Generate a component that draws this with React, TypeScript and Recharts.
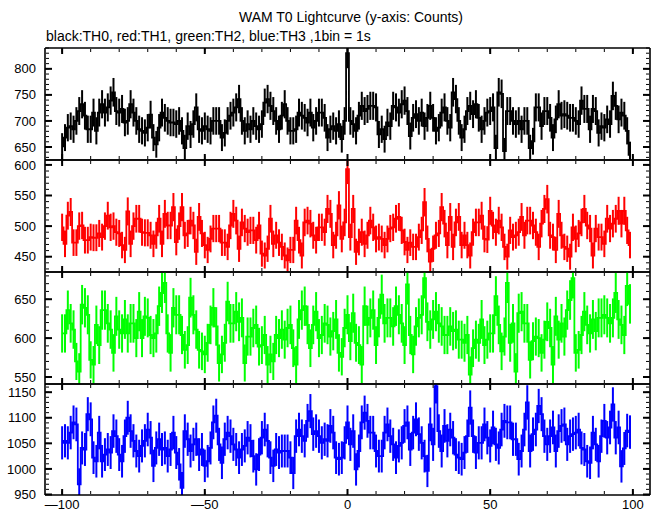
import { LineChart, Line, XAxis, YAxis, ErrorBar } from "recharts";

// 1 s bins, centred on -100 .. 99
const seconds = Array.from({ length: 200 }, (_, i) => i - 100);
const xMajor = [-100, -50, 0, 50, 100];
const xMinor = Array.from({ length: 21 }, (_, i) => -100 + i * 10);

const th0 = [
  651, 668, 687, 690, 684, 700, 719, 732, 710, 684,
  684, 716, 681, 716, 732, 716, 726, 739, 755, 719,
  716, 723, 697, 700, 732, 716, 700, 684, 681, 677,
  687, 712, 668, 655, 687, 716, 706, 700, 697, 697,
  694, 700, 681, 648, 690, 674, 694, 726, 684, 681,
  690, 684, 681, 700, 700, 700, 668, 677, 700, 710,
  716, 726, 742, 700, 681, 694, 684, 700, 690, 684,
  694, 735, 742, 729, 719, 700, 684, 710, 732, 700,
  681, 681, 684, 716, 710, 706, 697, 716, 687, 700,
  716, 716, 706, 668, 684, 690, 681, 694, 665, 700,
  830, 700, 694, 681, 710, 729, 719, 723, 729, 729,
  726, 674, 684, 665, 697, 690, 729, 726, 716, 732,
  739, 719, 671, 706, 713, 700, 716, 690, 706, 729,
  706, 681, 687, 716, 726, 700, 687, 755, 742, 700,
  668, 684, 719, 729, 713, 732, 706, 684, 700, 716,
  719, 726, 648, 755, 752, 642, 719, 719, 700, 694,
  700, 684, 700, 700, 648, 661, 726, 726, 690, 719,
  719, 706, 668, 703, 732, 710, 713, 710, 706, 706,
  700, 694, 739, 723, 723, 684, 723, 719, 677, 690,
  687, 703, 694, 748, 729, 703, 716, 710, 681, 635,
];

const th1 = [
  498, 471, 517, 523, 473, 473, 500, 501, 477, 477,
  482, 481, 481, 488, 482, 500, 517, 498, 500, 490,
  488, 469, 461, 524, 471, 500, 512, 512, 490, 489,
  489, 485, 471, 485, 512, 471, 520, 501, 501, 531,
  474, 500, 531, 485, 488, 509, 501, 458, 515, 488,
  469, 461, 479, 496, 496, 496, 473, 473, 466, 501,
  520, 509, 463, 506, 496, 490, 493, 493, 477, 501,
  455, 452, 463, 512, 471, 485, 473, 466, 452, 444,
  461, 461, 509, 477, 452, 506, 509, 504, 485, 477,
  498, 498, 490, 528, 520, 469, 485, 534, 479, 506,
  593, 482, 528, 458, 474, 490, 471, 485, 509, 498,
  479, 482, 479, 469, 479, 496, 498, 512, 515, 493,
  474, 461, 473, 466, 466, 482, 493, 539, 479, 442,
  463, 485, 488, 531, 504, 469, 515, 466, 506, 515,
  469, 485, 469, 452, 490, 506, 506, 517, 479, 478,
  525, 501, 490, 509, 498, 466, 450, 493, 482, 485,
  490, 515, 485, 509, 509, 501, 490, 466, 504, 528,
  544, 485, 482, 461, 520, 485, 466, 463, 450, 498,
  479, 488, 506, 528, 501, 496, 452, 496, 482, 482,
  471, 512, 496, 504, 512, 525, 504, 525, 493, 469,
];

const th2 = [
  606, 606, 636, 619, 611, 570, 557, 643, 639, 630,
  572, 566, 617, 591, 636, 636, 619, 611, 581, 628,
  611, 606, 624, 606, 619, 619, 600, 634, 600, 628,
  626, 604, 600, 606, 641, 658, 671, 606, 581, 639,
  630, 630, 604, 585, 591, 652, 630, 611, 585, 583,
  579, 594, 617, 639, 615, 568, 579, 594, 647, 619,
  619, 634, 621, 626, 568, 602, 602, 613, 617, 589,
  591, 604, 566, 579, 570, 604, 600, 611, 598, 613,
  617, 587, 566, 624, 636, 641, 617, 587, 617, 634,
  600, 604, 619, 617, 602, 609, 624, 581, 576, 613,
  630, 596, 632, 594, 591, 566, 641, 617, 626, 636,
  591, 626, 656, 619, 626, 626, 615, 641, 630, 619,
  591, 669, 604, 579, 615, 626, 630, 677, 621, 611,
  624, 634, 619, 615, 604, 604, 615, 609, 611, 598,
  598, 594, 604, 553, 587, 598, 594, 624, 591, 598,
  606, 606, 654, 617, 583, 602, 671, 594, 619, 557,
  632, 634, 619, 619, 572, 596, 602, 600, 581, 598,
  621, 613, 566, 628, 598, 619, 602, 636, 649, 677,
  581, 585, 604, 634, 617, 606, 624, 609, 626, 626,
  630, 626, 619, 626, 658, 624, 617, 604, 667, 644,
];

const th3 = [
  1051, 1055, 1051, 1071, 1091, 1087, 970, 1041, 1038, 1107,
  1097, 1022, 1015, 1071, 1015, 1028, 1038, 1032, 1074, 1064,
  1028, 1015, 1064, 1100, 1074, 1055, 1035, 1025, 1045, 1055,
  1077, 1061, 1006, 1041, 1058, 1038, 1041, 1025, 1038, 1071,
  1032, 1009, 963, 1074, 1058, 1035, 1048, 1058, 1028, 1038,
  1006, 1015, 1041, 1091, 1104, 1048, 1012, 1058, 1071, 1064,
  1048, 1038, 1022, 1038, 1045, 1061, 1055, 1025, 999, 1028,
  1061, 1077, 1055, 1022, 1006, 1038, 1032, 1035, 1035, 1035,
  1022, 992, 1064, 1077, 1064, 1055, 1094, 1113, 1068, 1074,
  1064, 1051, 1058, 1055, 1084, 1071, 1022, 1019, 1022, 1051,
  1091, 1048, 1074, 999, 1035, 1091, 1110, 1094, 1071, 1071,
  1035, 1025, 1025, 1071, 1087, 1064, 1048, 1022, 1045, 1051,
  1084, 1091, 1038, 1071, 1097, 1068, 1051, 1025, 996, 1087,
  1048, 1162, 1074, 1035, 1084, 1055, 1077, 1061, 1028, 1022,
  1019, 1032, 1064, 1120, 1064, 1032, 1051, 1051, 1087, 1061,
  1045, 1081, 1048, 1041, 1077, 1094, 1091, 1091, 1058, 1058,
  1019, 1035, 1077, 1130, 1035, 1068, 1077, 1123, 1107, 1064,
  1048, 1064, 1081, 1035, 1074, 1084, 1087, 1048, 1064, 1068,
  1071, 1077, 1041, 1038, 1015, 1012, 1071, 1048, 1015, 1064,
  1094, 1061, 1081, 1126, 1061, 1081, 1005, 1040, 1075, 1072,
];

const th0Ticks = [650, 700, 750, 800];
const th1Ticks = [450, 500, 550, 600];
const th2Ticks = [550, 600, 650];
const th3Ticks = [950, 1000, 1050, 1100, 1150];

const FONT = '"Liberation Sans", Arial, Helvetica, sans-serif';
const PAD = 4;

const fmtX = (v: number) => (v < 0 ? "\u2014" + Math.abs(v) : String(v));
const NoLabel = () => <g />;

type PanelProps = {
  top: number;
  height: number;
  values: number[];
  color: string;
  domain: [number, number];
  labels: number[];
  showX?: boolean;
};

const Panel = ({ top, height, values, color, domain, labels, showX }: PanelProps) => {
  // Poisson errors, cut at the panel edges
  const data = seconds.map((t, i) => {
    const v = values[i];
    const e = Math.sqrt(v);
    return { t, c: v, err: [Math.min(e, v - domain[0]), Math.min(e, domain[1] - v)] };
  });
  const yMinor: number[] = [];
  for (let v = Math.ceil(domain[0] / 10) * 10; v <= domain[1]; v += 10) yMinor.push(v);

  const xc = {
    type: "number" as const,
    dataKey: "t",
    domain: [-106, 106],
    allowDataOverflow: true,
    interval: 0 as const,
    stroke: "#000",
    tick: NoLabel,
    mirror: true,
    height: 1,
  };
  const yc = {
    type: "number" as const,
    domain,
    allowDataOverflow: true,
    interval: 0 as const,
    stroke: "#000",
    tick: NoLabel,
    mirror: true,
    width: 1,
  };
  const frame = { stroke: "#000", strokeWidth: 1.6 };
  const major = { stroke: "#000", strokeWidth: 2 };
  const minor = { stroke: "#000", strokeWidth: 1 };
  const label = { fill: "#000", fontSize: 13, fontFamily: FONT };

  return (
    <div style={{ position: "absolute", left: 0, top: top - PAD }}>
      <LineChart
        width={662}
        height={height + PAD * 2 + (showX ? 22 : 0)}
        data={data}
        margin={{ top: PAD, right: 12, bottom: PAD, left: 0 }}
      >
        <XAxis {...xc} xAxisId="b" orientation="bottom" ticks={xMajor} tickSize={6} axisLine={frame} tickLine={major} />
        <XAxis {...xc} xAxisId="bm" orientation="bottom" ticks={xMinor} tickSize={3} axisLine={false} tickLine={minor} />
        <XAxis {...xc} xAxisId="t" orientation="top" ticks={xMajor} tickSize={6} axisLine={frame} tickLine={major} />
        <XAxis {...xc} xAxisId="tm" orientation="top" ticks={xMinor} tickSize={3} axisLine={false} tickLine={minor} />
        {showX && (
          <XAxis
            xAxisId="lab"
            type="number"
            dataKey="t"
            domain={[-106, 106]}
            allowDataOverflow
            orientation="bottom"
            height={22}
            ticks={xMajor}
            interval={0}
            axisLine={false}
            tickLine={false}
            tickSize={0}
            tickMargin={5}
            tick={label}
            tickFormatter={fmtX}
          />
        )}
        <YAxis {...yc} yAxisId="l" orientation="left" ticks={labels} tickSize={7} axisLine={frame} tickLine={major} />
        <YAxis {...yc} yAxisId="lm" orientation="left" ticks={yMinor} tickSize={3} axisLine={false} tickLine={minor} />
        <YAxis {...yc} yAxisId="r" orientation="right" ticks={labels} tickSize={7} axisLine={frame} tickLine={major} />
        <YAxis {...yc} yAxisId="rm" orientation="right" ticks={yMinor} tickSize={3} axisLine={false} tickLine={minor} />
        <YAxis
          yAxisId="lab"
          type="number"
          domain={domain}
          allowDataOverflow
          orientation="left"
          width={45}
          ticks={labels}
          interval={0}
          axisLine={false}
          tickLine={false}
          tickSize={0}
          tickMargin={9}
          tick={label}
        />
        <Line
          xAxisId="b"
          yAxisId="l"
          dataKey="c"
          type="step"
          stroke={color}
          strokeWidth={1.8}
          dot={false}
          isAnimationActive={false}
        >
          <ErrorBar dataKey="err" direction="y" width={0} stroke={color} strokeWidth={2} />
        </Line>
      </LineChart>
    </div>
  );
};

export default function App() {
  return (
    <div
      style={{
        position: "absolute",
        left: 0,
        top: 0,
        width: 662,
        height: 515,
        background: "#fff",
        fontFamily: FONT,
        color: "#000",
      }}
    >
      <div
        style={{
          position: "absolute",
          left: 351,
          top: 9,
          transform: "translateX(-50%)",
          fontSize: 14,
          lineHeight: "16px",
          whiteSpace: "nowrap",
        }}
      >
        WAM T0 Lightcurve (y-axis: Counts)
      </div>
      <div
        style={{
          position: "absolute",
          left: 46,
          top: 28,
          fontSize: 14,
          lineHeight: "16px",
          whiteSpace: "nowrap",
        }}
      >
        black:TH0, red:TH1, green:TH2, blue:TH3 ,1bin = 1s
      </div>
      <Panel top={48} height={112} values={th0} color="#000000" domain={[625, 840]} labels={th0Ticks} />
      <Panel top={160} height={112} values={th1} color="#ff0000" domain={[425, 608]} labels={th1Ticks} />
      <Panel top={272} height={112} values={th2} color="#00ff00" domain={[541, 685]} labels={th2Ticks} />
      <Panel top={384} height={111} values={th3} color="#0000ff" domain={[949, 1166]} labels={th3Ticks} showX />
    </div>
  );
}
